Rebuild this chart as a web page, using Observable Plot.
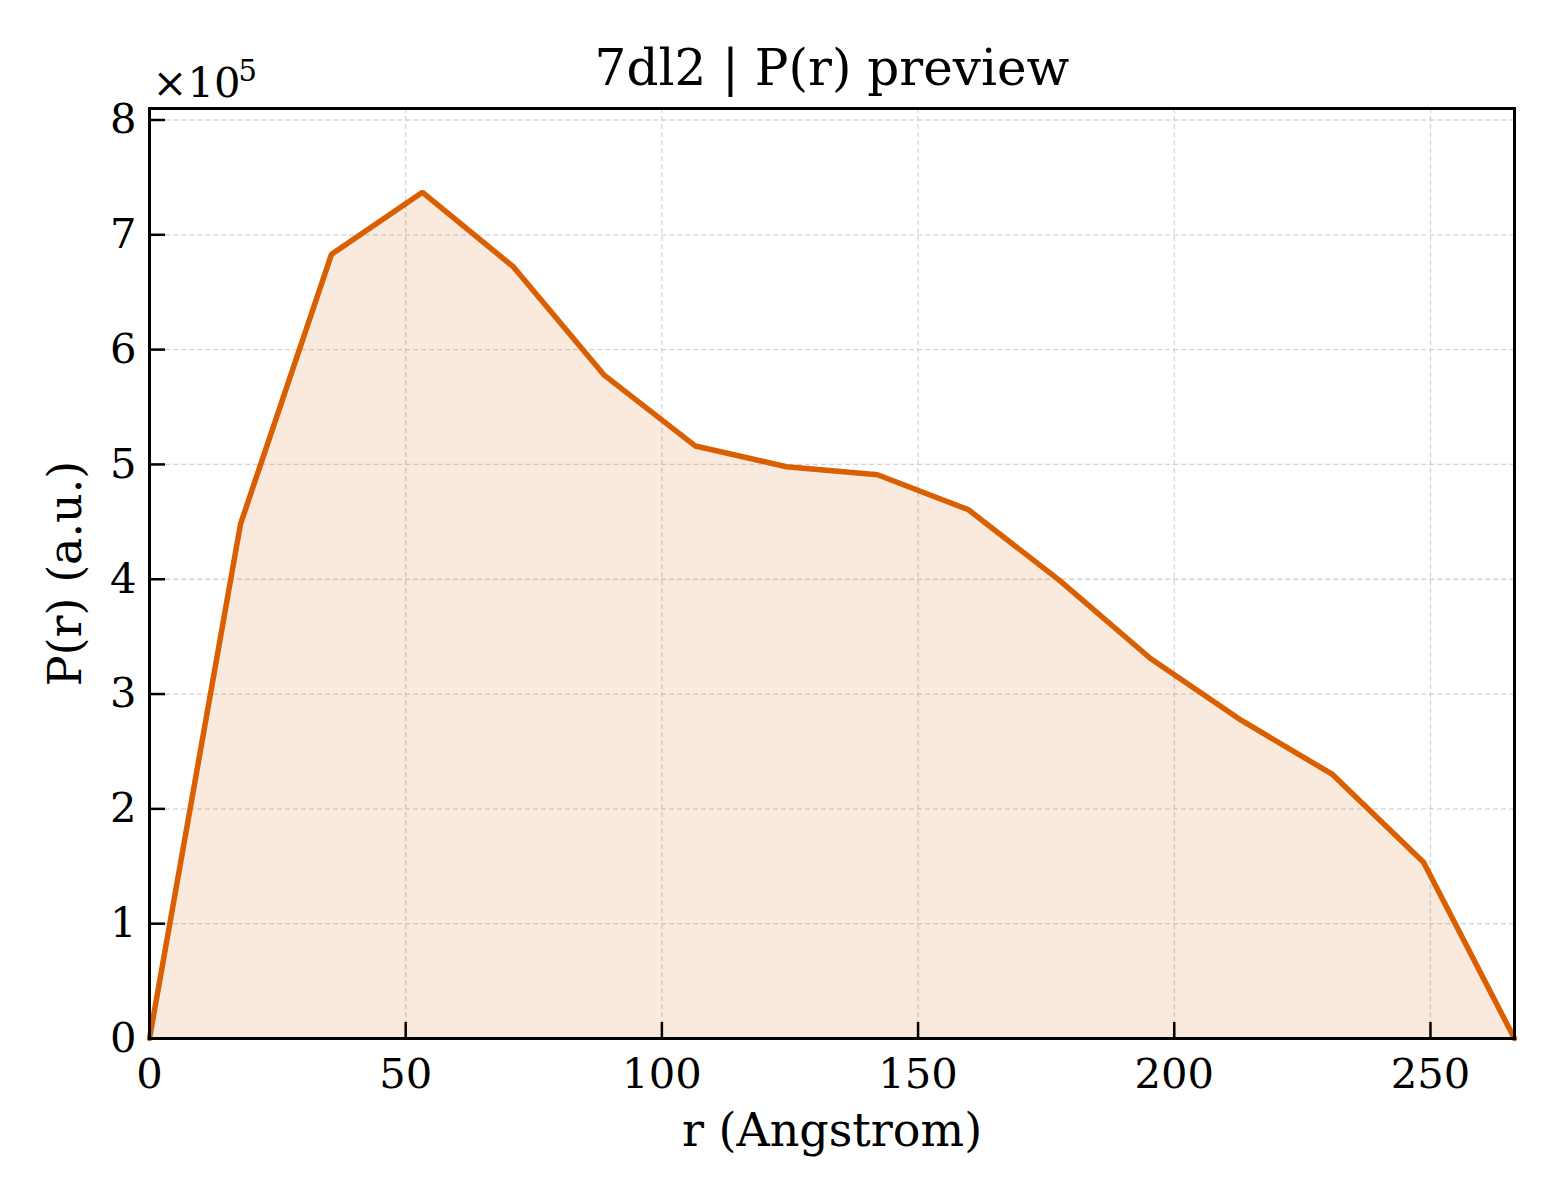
<!DOCTYPE html>
<html>
<head>
<meta charset="utf-8">
<script src="https://cdn.jsdelivr.net/npm/d3@7"></script>
<script src="https://cdn.jsdelivr.net/npm/@observablehq/plot@0.6"></script>
<style>
  html, body { margin: 0; padding: 0; background: #fff; }
  #chart svg { display: block; }
</style>
</head>
<body>
<div id="chart"></div>
<script>
// r (Angstrom) sample positions
const rValues = [0, 17.76, 35.52, 53.28, 71.04, 88.8, 106.56, 124.32, 142.08, 159.84, 177.6, 195.36, 213.12, 230.88, 248.64, 266.4];
// P(r) values (a.u.)
const prValues = [0, 448000, 683000, 737000, 672000, 577500, 516000, 498000, 491000, 460500, 399000, 331000, 277000, 230000, 153500, 0];
const xTicks = [0, 50, 100, 150, 200, 250];
const yTicks = [0, 100000, 200000, 300000, 400000, 500000, 600000, 700000, 800000];
const titleText = "7dl2 | P(r) preview";
const xLabel = "r (Angstrom)";
const yLabel = "P(r) (a.u.)";
const offsetBase = "×10";
const offsetExp = "5";

const data = rValues.map((r, i) => ({r, p: prValues[i]}));
const lineColor = "#d95f02";
const font = "DejaVu Serif";

const chart = Plot.plot({
  width: 1560,
  height: 1200,
  marginLeft: 149,
  marginRight: 46,
  marginTop: 108,
  marginBottom: 162,
  style: {fontFamily: font, background: "#fff", color: "#000"},
  x: {domain: [0, 266.4], label: null},
  y: {domain: [0, 810000], label: null},
  marks: [
    Plot.gridX(xTicks, {stroke: "#c8c8c8", strokeOpacity: 0.8, strokeWidth: 1.3, strokeDasharray: "5,3"}),
    Plot.gridY(yTicks, {stroke: "#c8c8c8", strokeOpacity: 0.8, strokeWidth: 1.3, strokeDasharray: "5,3"}),
    Plot.areaY(data, {x: "r", y: "p", fill: lineColor, fillOpacity: 0.13}),
    Plot.line(data, {x: "r", y: "p", stroke: lineColor, strokeWidth: 5.5, strokeLinejoin: "miter"}),
    Plot.axisX(xTicks, {anchor: "bottom", tickSize: -16, tickPadding: 36, strokeWidth: 2.5, fontSize: 41.7, label: null, tickFormat: d => String(d)}),
    Plot.axisY(yTicks, {anchor: "left", tickSize: -16, tickPadding: 29, strokeWidth: 2.5, fontSize: 41.7, label: null, tickFormat: d => String(d / 100000)}),
    Plot.frame({stroke: "#000", strokeWidth: 3}),
    Plot.text([titleText], {frameAnchor: "top", text: d => d, dy: -24, lineAnchor: "bottom", fontSize: 50, fill: "#000"}),
    Plot.text([offsetBase], {frameAnchor: "top-left", text: d => d, dx: 3, dy: -12, textAnchor: "start", lineAnchor: "bottom", fontSize: 41.7, fill: "#000"}),
    Plot.text([offsetExp], {frameAnchor: "top-left", text: d => d, dx: 89, dy: -28, textAnchor: "start", lineAnchor: "bottom", fontSize: 29, fill: "#000"}),
    Plot.text([xLabel], {frameAnchor: "bottom", text: d => d, dy: 107, lineAnchor: "bottom", fontSize: 46, fill: "#000"}),
    Plot.text([yLabel], {frameAnchor: "left", text: d => d, dx: -69, rotate: -90, textAnchor: "middle", lineAnchor: "bottom", fontSize: 46, fill: "#000"})
  ]
});
document.getElementById("chart").appendChild(chart);
</script>
</body>
</html>
